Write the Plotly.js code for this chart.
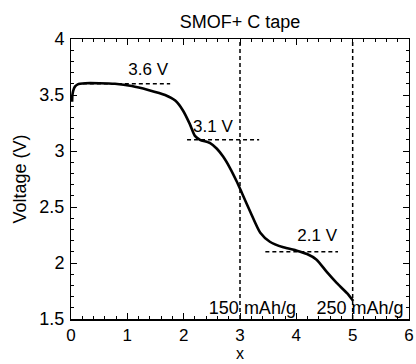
<!DOCTYPE html>
<html>
<head>
<meta charset="utf-8">
<script src="https://cdn.plot.ly/plotly-3.0.1.min.js"></script>
<style>html,body{margin:0;padding:0;background:#fff;}#chart{width:416px;height:364px;}</style>
</head>
<body>
<div id="chart"></div>
<script>
// Discharge curve: capacity (x) vs voltage
const capacity = [0.02,0.025,0.04,0.07,0.12,0.16,0.25,0.5,0.78,1.08,1.37,1.67,1.85,1.99,2.11,2.20,2.29,2.47,2.59,2.70,2.82,2.94,3.03,3.18,3.36,3.53,3.77,4.01,4.19,4.36,4.54,4.72,4.90,5.01];
const voltage  = [3.44,3.50,3.54,3.575,3.595,3.60,3.605,3.605,3.60,3.58,3.545,3.50,3.45,3.36,3.24,3.135,3.10,3.07,3.02,2.95,2.85,2.73,2.63,2.46,2.27,2.19,2.14,2.11,2.08,2.03,1.92,1.82,1.73,1.66];

// Plateau reference levels (dashed horizontal lines)
const plateauLevels = [3.6, 3.1, 2.1];
const plateauLabels = ["3.6 V", "3.1 V", "2.1 V"];
const plateauStart  = [0.21, 2.06, 3.45];
const plateauEnd    = [1.76, 3.34, 4.74];
const plateauLabelX = [1.37, 2.52, 4.37];
const plateauLabelY = [3.72, 3.21, 2.23];

// Capacity markers (dashed vertical lines)
const capMarkers = [3, 5];
const capLabels  = ["150 mAh/g", "250 mAh/g"];
const capLabelX  = [3.22, 5.13];
const capLabelY  = 1.585;
const yRange = [1.5, 4];

const traces = [];
traces.push({x: capacity, y: voltage, mode: 'lines', type: 'scatter',
  line: {color: '#000', width: 2.6, shape: 'spline', smoothing: 0.6}, hoverinfo: 'skip'});
for (let i = 0; i < plateauLevels.length; i++) {
  traces.push({x: [plateauStart[i], plateauEnd[i]], y: [plateauLevels[i], plateauLevels[i]],
    mode: 'lines', type: 'scatter', line: {color: '#000', width: 1.5, dash: '4px,3px'}});
}
for (let i = 0; i < capMarkers.length; i++) {
  traces.push({x: [capMarkers[i], capMarkers[i]], y: yRange,
    mode: 'lines', type: 'scatter', line: {color: '#000', width: 1.5, dash: '4px,3px'}});
}
traces.push({x: plateauLabelX, y: plateauLabelY, text: plateauLabels, mode: 'text', type: 'scatter',
  textfont: {family: 'Liberation Sans, Arial, sans-serif', size: 17, color: '#000'}});
traces.push({x: capLabelX, y: [capLabelY, capLabelY], text: capLabels, mode: 'text', type: 'scatter',
  textfont: {family: 'Liberation Sans, Arial, sans-serif', size: 18, color: '#000'}});

const font = {family: 'Liberation Sans, Arial, sans-serif', size: 18, color: '#000'};
const layout = {
  width: 416, height: 364,
  margin: {l: 71, r: 7, t: 39, b: 45},
  showlegend: false,
  paper_bgcolor: '#fff', plot_bgcolor: '#fff',
  font: font,
  title: {text: 'SMOF+ C tape', font: {family: font.family, size: 18, color: '#000'},
    x: 0.577, xanchor: 'center', y: 0.94, yanchor: 'middle'},
  xaxis: {
    range: [0, 6], dtick: 1, tick0: 0, showgrid: false, zeroline: false,
    showline: true, linecolor: '#000', linewidth: 1.5, mirror: 'ticks',
    ticks: 'inside', ticklen: 6, tickcolor: '#000',
    minor: {dtick: 0.2, ticks: 'inside', ticklen: 3, tickcolor: '#000'},
    tickfont: {family: font.family, size: 17, color: '#000'},
    ticklabelstandoff: 0,
    automargin: false
  },
  yaxis: {
    range: yRange, dtick: 0.5, tick0: 0, showgrid: false, zeroline: false,
    showline: true, linecolor: '#000', linewidth: 1, mirror: 'ticks',
    ticks: 'inside', ticklen: 6, tickcolor: '#000',
    minor: {dtick: 0.1, ticks: 'inside', ticklen: 3, tickcolor: '#000'},
    tickfont: {family: font.family, size: 18, color: '#000'},
    ticklabelstandoff: 2,
    automargin: false,
    title: {text: 'Voltage (V)', font: {family: font.family, size: 18, color: '#000'}, standoff: 8}
  },
  annotations: [{text: 'x', xref: 'paper', yref: 'paper', x: 0.5, y: -0.16,
    xanchor: 'center', yanchor: 'bottom', showarrow: false,
    font: {family: font.family, size: 16, color: '#000'}}]
};
Plotly.newPlot('chart', traces, layout, {displayModeBar: false, staticPlot: true});
</script>
</body>
</html>
